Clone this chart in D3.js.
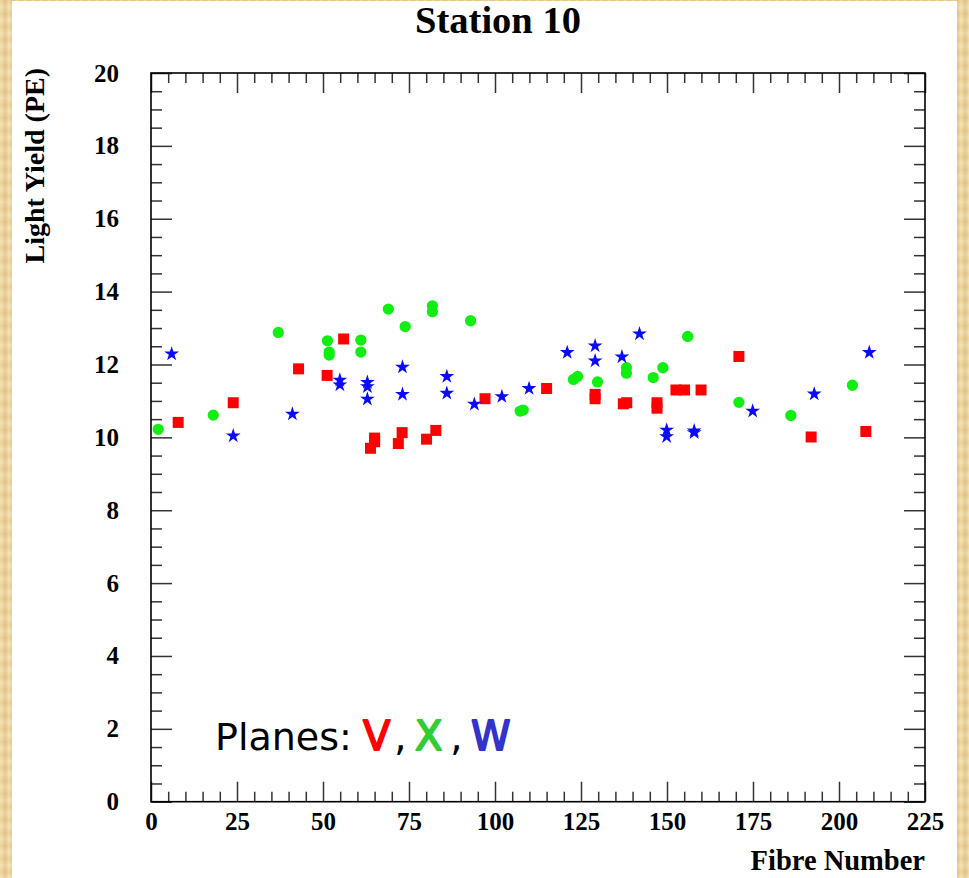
<!DOCTYPE html>
<html>
<head>
<meta charset="utf-8">
<script src="https://cdn.jsdelivr.net/npm/d3@7"></script>
<style>
html, body { margin: 0; padding: 0; }
body {
  width: 969px; height: 878px; overflow: hidden;
  background-color: #ebd29c;
  background-image:
    repeating-linear-gradient(90deg, rgba(255,240,200,0.35) 0px, rgba(255,240,200,0.0) 3px, rgba(200,160,90,0.25) 5px, rgba(255,240,200,0.1) 8px),
    repeating-linear-gradient(0deg, rgba(255,245,210,0.3) 0px, rgba(210,170,100,0.2) 6px, rgba(255,245,210,0.3) 13px);
}
svg { display: block; }
</style>
</head>
<body>
<script>
// ---- Data ----
const vFibre = [7.9, 23.9, 42.9, 51.2, 56.0, 63.8, 65.0, 65.0, 71.9, 73.0, 80.1, 82.8, 97.1, 115.0, 129.1, 129.1, 137.3, 138.3, 147.1, 147.1, 152.6, 155.1, 159.9, 170.9, 191.9, 207.8];
const vYield = [10.41, 10.95, 11.88, 11.70, 12.70, 9.70, 9.98, 9.88, 9.83, 10.13, 9.95, 10.19, 11.06, 11.34, 11.18, 11.06, 10.92, 10.95, 10.95, 10.80, 11.30, 11.30, 11.30, 12.22, 10.01, 10.16];

const xFibre = [2.1, 18.1, 37.0, 51.3, 51.8, 51.8, 61.0, 61.0, 69.0, 73.9, 81.8, 81.8, 92.9, 107.3, 108.2, 122.8, 124.0, 129.8, 138.2, 138.2, 146.0, 148.8, 156.0, 170.9, 186.0, 203.9];
const xYield = [10.22, 10.61, 12.88, 12.65, 12.34, 12.26, 12.67, 12.34, 13.52, 13.04, 13.61, 13.45, 13.20, 10.72, 10.75, 11.59, 11.67, 11.52, 11.91, 11.76, 11.64, 11.91, 12.77, 10.96, 10.60, 11.43];

const wFibre = [6.0, 23.9, 41.1, 54.9, 54.9, 62.9, 62.9, 62.9, 73.1, 73.1, 86.0, 86.0, 94.0, 102.0, 109.9, 121.0, 129.1, 129.1, 136.9, 142.0, 149.9, 149.9, 157.9, 157.9, 174.9, 192.8, 208.8];
const wYield = [12.29, 10.04, 10.64, 11.57, 11.44, 11.51, 11.39, 11.05, 11.93, 11.18, 11.67, 11.21, 10.91, 11.12, 11.34, 12.33, 12.51, 12.10, 12.21, 12.84, 10.20, 10.02, 10.18, 10.13, 10.72, 11.19, 12.33];

const xTickLabels = [0, 25, 50, 75, 100, 125, 150, 175, 200, 225];
const yTickLabels = [0, 2, 4, 6, 8, 10, 12, 14, 16, 18, 20];

const titleText = "Station 10";
const xTitle = "Fibre Number";
const yTitle = "Light Yield (PE)";
const legendParts = ["Planes:", "V", ",", "X", ",", "W"];

// ---- Layout ----
const W = 969, H = 878;
const L = 151, R = 925, T = 73, B = 801.7;

const svg = d3.select("body").append("svg").attr("width", W).attr("height", H);

// white canvas
svg.append("rect").attr("x", 12).attr("y", 1).attr("width", 945).attr("height", H - 1).attr("fill", "#ffffff");

const x = d3.scaleLinear().domain([0, 225]).range([L, R]);
const y = d3.scaleLinear().domain([0, 20]).range([B, T]);

const xMinor = d3.range(0, 226, 5).filter(v => v % 25 !== 0);
const yMinor = d3.range(0, 20.01, 0.5).filter(v => Math.abs(v / 2 - Math.round(v / 2)) > 1e-6);

const serif = "'Liberation Serif', 'Times New Roman', serif";
const tickColor = "#333";

function styleAxis(g) {
  g.select(".domain").remove();
  g.selectAll("line").attr("stroke", tickColor).attr("stroke-width", 1.5);
  g.selectAll("text").attr("font-family", serif).attr("font-weight", "bold").attr("font-size", 25).attr("fill", "#000");
}

// bottom axis with labels
svg.append("g").attr("transform", `translate(0,${B})`)
  .call(d3.axisBottom(x).tickValues(xTickLabels).tickSize(-20).tickPadding(11).tickFormat(d3.format("d")))
  .call(styleAxis);
svg.append("g").attr("transform", `translate(0,${B})`)
  .call(d3.axisBottom(x).tickValues(xMinor).tickSize(-10).tickFormat(""))
  .call(styleAxis);
// top mirror ticks
svg.append("g").attr("transform", `translate(0,${T})`)
  .call(d3.axisTop(x).tickValues(xTickLabels).tickSize(-20).tickFormat(""))
  .call(styleAxis);
svg.append("g").attr("transform", `translate(0,${T})`)
  .call(d3.axisTop(x).tickValues(xMinor).tickSize(-10).tickFormat(""))
  .call(styleAxis);

// left axis with labels
svg.append("g").attr("transform", `translate(${L},0)`)
  .call(d3.axisLeft(y).tickValues(yTickLabels).tickSize(-21).tickPadding(32).tickFormat(d3.format("d")))
  .call(styleAxis);
svg.append("g").attr("transform", `translate(${L},0)`)
  .call(d3.axisLeft(y).tickValues(yMinor).tickSize(-11).tickFormat(""))
  .call(styleAxis);
// right mirror ticks
svg.append("g").attr("transform", `translate(${R},0)`)
  .call(d3.axisRight(y).tickValues(yTickLabels).tickSize(-21).tickFormat(""))
  .call(styleAxis);
svg.append("g").attr("transform", `translate(${R},0)`)
  .call(d3.axisRight(y).tickValues(yMinor).tickSize(-11).tickFormat(""))
  .call(styleAxis);

// frame
svg.append("rect").attr("x", L).attr("y", T).attr("width", R - L).attr("height", B - T)
  .attr("fill", "none").attr("stroke", "#000").attr("stroke-width", 1.6);

// ---- Markers ----
const series = [
  { xs: vFibre, ys: vYield, type: d3.symbolSquare, size: 121, color: "#ff0000" },
  { xs: xFibre, ys: xYield, type: d3.symbolCircle, size: 100, color: "#11ee11" },
  { xs: wFibre, ys: wYield, type: d3.symbolStar, size: 68, color: "#0a0aff" }
];
series.forEach(s => {
  const pts = s.xs.map((d, i) => [d, s.ys[i]]);
  svg.append("g").selectAll("path").data(pts).join("path")
    .attr("d", d3.symbol().type(s.type).size(s.size))
    .attr("transform", d => `translate(${x(d[0])},${y(d[1])})`)
    .attr("fill", s.color);
});

// ---- Titles ----
svg.append("text").attr("x", 498).attr("y", 33).attr("text-anchor", "middle")
  .attr("font-family", serif).attr("font-weight", "bold").attr("font-size", 38.5).text(titleText);

svg.append("text").attr("x", R).attr("y", 870).attr("text-anchor", "end")
  .attr("font-family", serif).attr("font-weight", "bold").attr("font-size", 28.5).text(xTitle);

svg.append("text").attr("transform", "translate(44,68) rotate(-90)").attr("text-anchor", "end")
  .attr("font-family", serif).attr("font-weight", "bold").attr("font-size", 28).text(yTitle);

// ---- Legend text ----
const legX = [215, 363, 394, 415, 450, 471];
const legC = ["#000000", "#ff0000", "#000000", "#33cc33", "#000000", "#3333cc"];
const leg = svg.append("text").attr("y", 750)
  .attr("font-family", "'DejaVu Sans', sans-serif").attr("font-size", 40);
leg.selectAll("tspan").data(legendParts).join("tspan")
  .attr("x", (d, i) => legX[i])
  .attr("fill", (d, i) => legC[i])
  .attr("font-size", (d, i) => i === 0 ? 38 : 40)
  .attr("stroke", (d, i) => (i % 2 === 1) ? legC[i] : "none")
  .attr("stroke-width", 1.8)
  .attr("stroke-linejoin", "round")
  .text(d => d);
</script>
</body>
</html>
